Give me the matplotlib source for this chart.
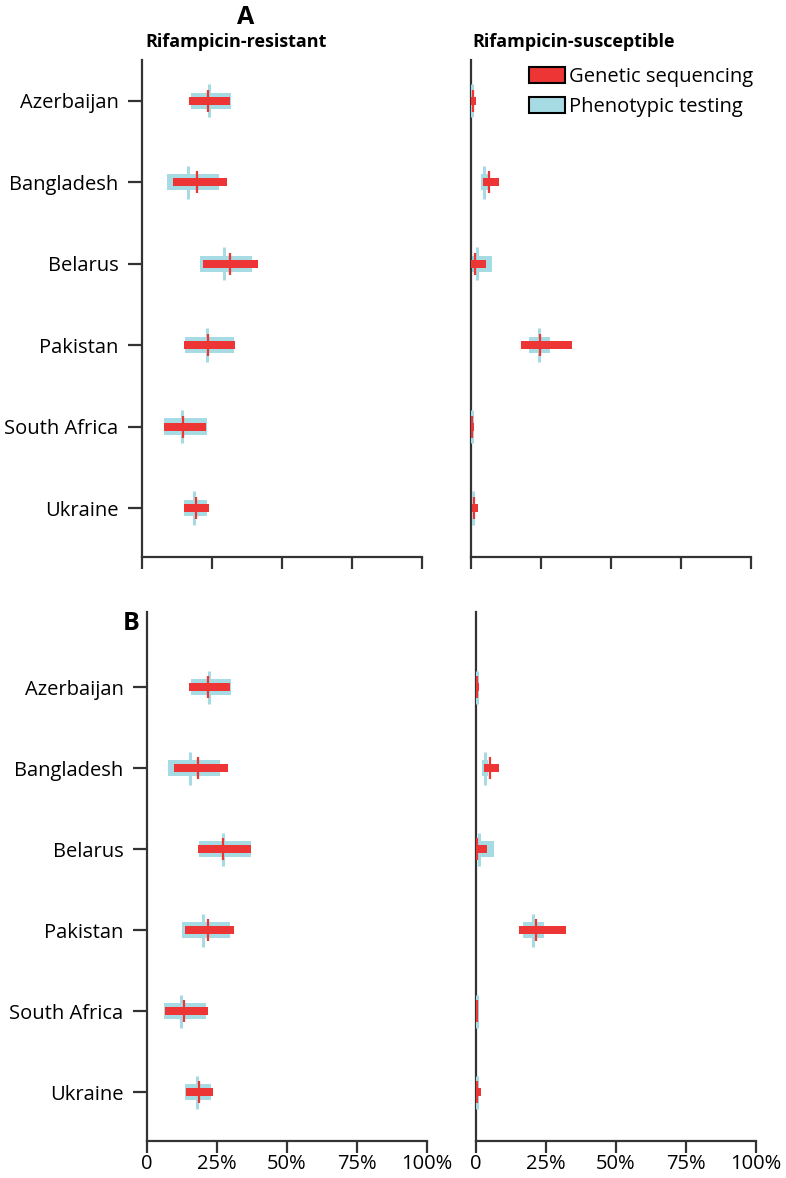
import matplotlib
matplotlib.use("Agg")
import matplotlib.pyplot as plt
from matplotlib.patches import Patch

plt.rcParams['font.family'] = ['Open Sans', 'DejaVu Sans']

countries = ["Azerbaijan", "Bangladesh", "Belarus", "Pakistan", "South Africa", "Ukraine"]

# panel A, rifampicin-resistant: (low, estimate, high) in %
a_res_pheno = [(17.5, 23.9, 31.8), (8.9, 16.4, 27.5), (20.7, 29.3, 39.3),
               (15.4, 23.2, 32.9), (7.9, 14.3, 23.2), (15.0, 18.6, 23.2)]
a_res_gen = [(16.8, 23.6, 31.4), (11.1, 19.6, 30.4), (21.8, 31.4, 41.4),
             (15.0, 23.6, 33.2), (7.9, 14.6, 22.9), (15.0, 19.3, 23.9)]
# panel A, rifampicin-susceptible
a_sus_pheno = [(0.0, 0.4, 1.2), (3.6, 4.7, 6.8), (0.2, 2.0, 7.4),
               (20.7, 24.3, 28.3), (0.0, 0.3, 0.6), (0.2, 0.7, 1.4)]
a_sus_gen = [(0.0, 0.6, 1.7), (4.2, 6.4, 10.0), (0.0, 1.4, 5.4),
             (17.9, 24.8, 36.2), (0.0, 0.4, 1.2), (0.2, 1.0, 2.5)]
# panel B, rifampicin-resistant
b_res_pheno = [(15.6, 22.1, 30.0), (7.5, 15.4, 26.1), (18.6, 27.1, 37.1),
               (12.5, 20.0, 29.6), (6.1, 12.1, 21.1), (13.6, 17.9, 22.9)]
b_res_gen = [(15.0, 21.8, 29.6), (9.6, 18.2, 28.9), (18.2, 27.1, 37.1),
             (13.6, 21.8, 31.1), (6.4, 13.2, 21.8), (13.9, 18.6, 23.6)]
# panel B, rifampicin-susceptible
b_sus_pheno = [(0.0, 0.3, 1.0), (2.1, 3.2, 4.3), (0.0, 1.0, 6.4),
               (16.8, 20.4, 24.3), (0.0, 0.2, 0.4), (0.0, 0.2, 0.6)]
b_sus_gen = [(0.0, 0.3, 1.2), (2.9, 5.0, 8.2), (0.0, 0.4, 3.9),
             (15.4, 21.4, 32.1), (0.0, 0.2, 0.4), (0.0, 0.3, 1.8)]

xticks = [0, 25, 50, 75, 100]
xticklabels = ["0", "25%", "50%", "75%", "100%"]

red = "#ee3535"
blue = "#a6dbe3"
dark = "#333333"

W, H = 786, 1178
fig = plt.figure(figsize=(W / 100, H / 100), dpi=100)


def box(x0, x1, top, bottom):
    return [x0 / W, 1 - bottom / H, (x1 - x0) / W, (bottom - top) / H]


def draw(ax, pheno, gen, ylim, ylabels, xlabels):
    ys = range(len(countries))
    for y, (lo, est, hi) in zip(ys, pheno):
        ax.barh(y, hi - lo, left=lo, height=0.2, color=blue, zorder=2)
        ax.vlines(est, y - 0.205, y + 0.205, color=blue, lw=2.2, zorder=3)
    for y, (lo, est, hi) in zip(ys, gen):
        ax.barh(y, hi - lo, left=lo, height=0.1, color=red, zorder=4)
        ax.vlines(est, y - 0.135, y + 0.135, color=red, lw=1.6, zorder=5)
    ax.set_xlim(0, 100)
    ax.set_ylim(*ylim)
    for s in ["top", "right"]:
        ax.spines[s].set_visible(False)
    for s in ["left", "bottom"]:
        ax.spines[s].set_linewidth(1.6)
        ax.spines[s].set_color(dark)
    ax.set_xticks(xticks)
    if xlabels:
        ax.set_xticklabels(xticklabels, fontsize=14.5)
    else:
        ax.set_xticklabels([])
    ax.tick_params(axis='x', length=8.5, width=1.6, color=dark, pad=1)
    ax.set_yticks(list(ys))
    if ylabels:
        ax.set_yticklabels(countries, fontsize=14.5)
        ax.tick_params(axis='y', length=10, width=1.6, color=dark, pad=7)
    else:
        ax.set_yticklabels([])
        ax.tick_params(axis='y', length=0)


ax1 = fig.add_axes(box(142, 422, 60, 557))
draw(ax1, a_res_pheno, a_res_gen, (5.6, -0.5), True, False)
ax2 = fig.add_axes(box(471, 751, 60, 557))
draw(ax2, a_sus_pheno, a_sus_gen, (5.6, -0.5), False, False)
ax3 = fig.add_axes(box(147, 427, 612, 1141))
draw(ax3, b_res_pheno, b_res_gen, (5.6, -0.93), True, True)
ax4 = fig.add_axes(box(476, 756, 612, 1141))
draw(ax4, b_sus_pheno, b_sus_gen, (5.6, -0.93), False, True)

fig.text(237 / W, 1 - 18 / H, "A", fontsize=18, fontweight='bold', va='center')
fig.text(123 / W, 1 - 623 / H, "B", fontsize=18, fontweight='bold', va='center')
fig.text(145 / W, 1 - 42 / H, "Rifampicin-resistant", fontsize=13,
         fontweight='bold', va='center')
fig.text(472 / W, 1 - 42 / H, "Rifampicin-susceptible", fontsize=13,
         fontweight='bold', va='center')

handles = [Patch(facecolor=red, edgecolor='black', lw=1.5),
           Patch(facecolor=blue, edgecolor='black', lw=1.5)]
fig.legend(handles, ["Genetic sequencing", "Phenotypic testing"],
           loc='upper left', bbox_to_anchor=(529 / W, 1 - 67 / H),
           frameon=False, fontsize=14.5, handlelength=1.8, handleheight=0.8,
           handletextpad=0.2, labelspacing=0.5, borderpad=0, borderaxespad=0)

fig.savefig("out.png", dpi=100)
